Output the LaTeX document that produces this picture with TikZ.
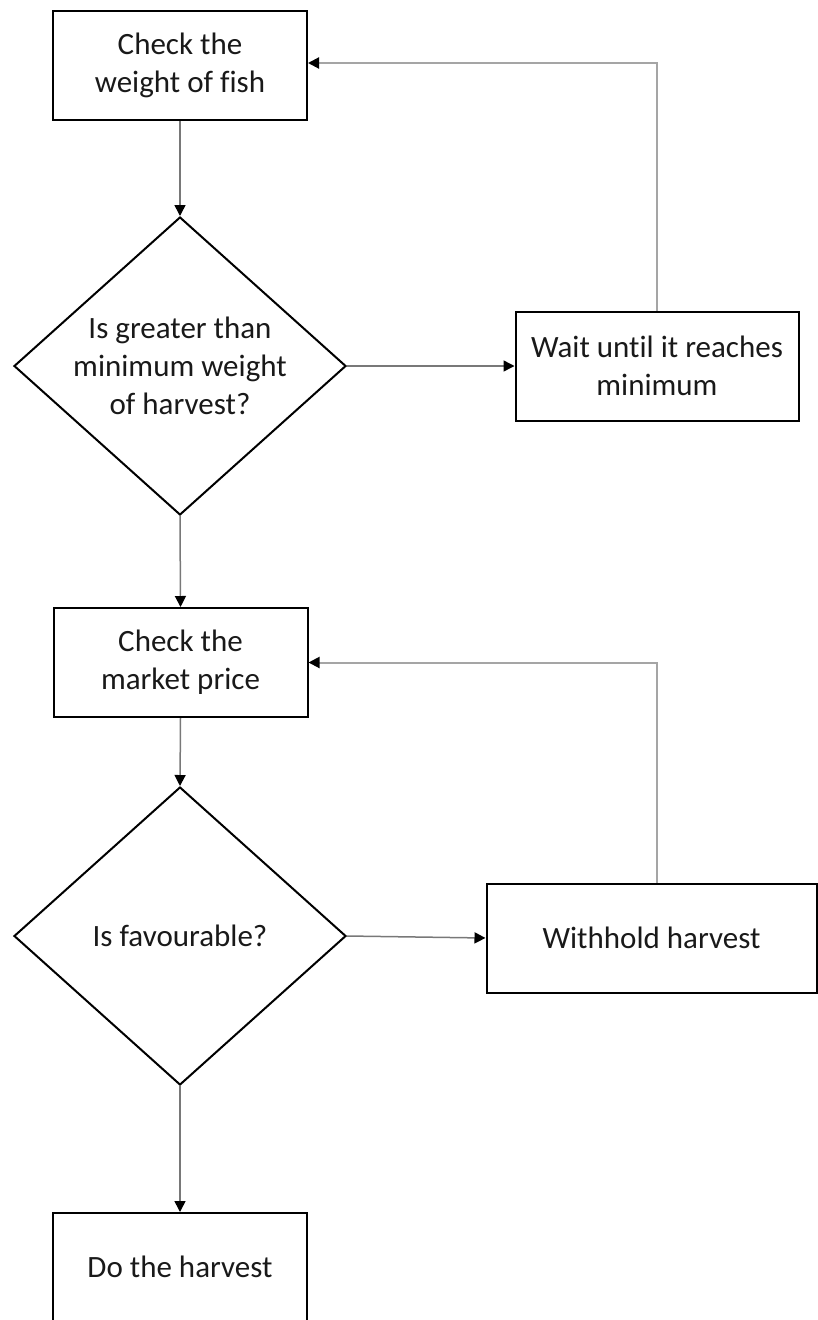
\documentclass[tikz,border=0pt]{standalone}
\usepackage{fontspec}
\setmainfont[Ligatures={NoCommon}]{Carlito}
\usetikzlibrary{arrows.meta,shapes.geometric}
\definecolor{fwdline}{RGB}{120,120,120}
\definecolor{backline}{RGB}{165,165,165}
\definecolor{txtcol}{RGB}{25,25,25}
\tikzset{
  txt/.style={font=\fontsize{31}{38}\selectfont, text=txtcol, align=center},
  procbox/.style={draw=black, line width=2pt, rectangle, inner sep=0pt, txt},
  decbox/.style={draw=black, line width=2pt, diamond, inner sep=0pt,
    minimum width=332pt, minimum height=298pt},
  fwd/.style={draw=fwdline, line width=1.5pt, -{Triangle[length=11pt,width=11pt,color=black]}},
  back/.style={draw=backline, line width=2pt, -{Triangle[length=11pt,width=11pt,color=black]}}
}
\begin{document}
\begin{tikzpicture}[x=1pt,y=-1pt]
\useasboundingbox (0,0) rectangle (818,1320);
\node[procbox, minimum width=254pt, minimum height=109pt] (b1) at (180,65.5) {Check the\\weight of fish};
\node[decbox, label={[txt, name=d1t]center:Is greater than\\minimum weight\\of harvest?}] (d1) at (180,366) {};
\node[procbox, minimum width=283pt, minimum height=109pt] (w) at (657,366) {Wait until it reaches\\minimum};
\node[procbox, minimum width=254pt, minimum height=109pt] (b2) at (180.5,662.5) {Check the\\market price};
\node[decbox, label={[txt, name=d2t]center:Is favourable?}] (d2) at (180,936) {};
\node[procbox, minimum width=330pt, minimum height=109pt] (h) at (651.5,938) {Withhold harvest};
\node[procbox, minimum width=254pt, minimum height=109pt, text depth=0pt] (f) at (180,1267.5) {};
\node[txt] (ft) at (180,1267) {Do the harvest};

\draw[fwd] (b1.south) -- (d1.north);
\draw[fwd] (d1.east) -- (w.west);
\draw[back] (w.north) |- ([yshift=2.5pt]b1.east);
\draw[fwd] (d1.south) -- (b2.north);
\draw[fwd] (b2.south) -- (d2.north);
\draw[fwd] (d2.east) -- (h.west);
\draw[back] ([xshift=5.5pt]h.north) |- (b2.east);
\draw[fwd] (d2.south) -- (f.north);
\end{tikzpicture}
\end{document}
